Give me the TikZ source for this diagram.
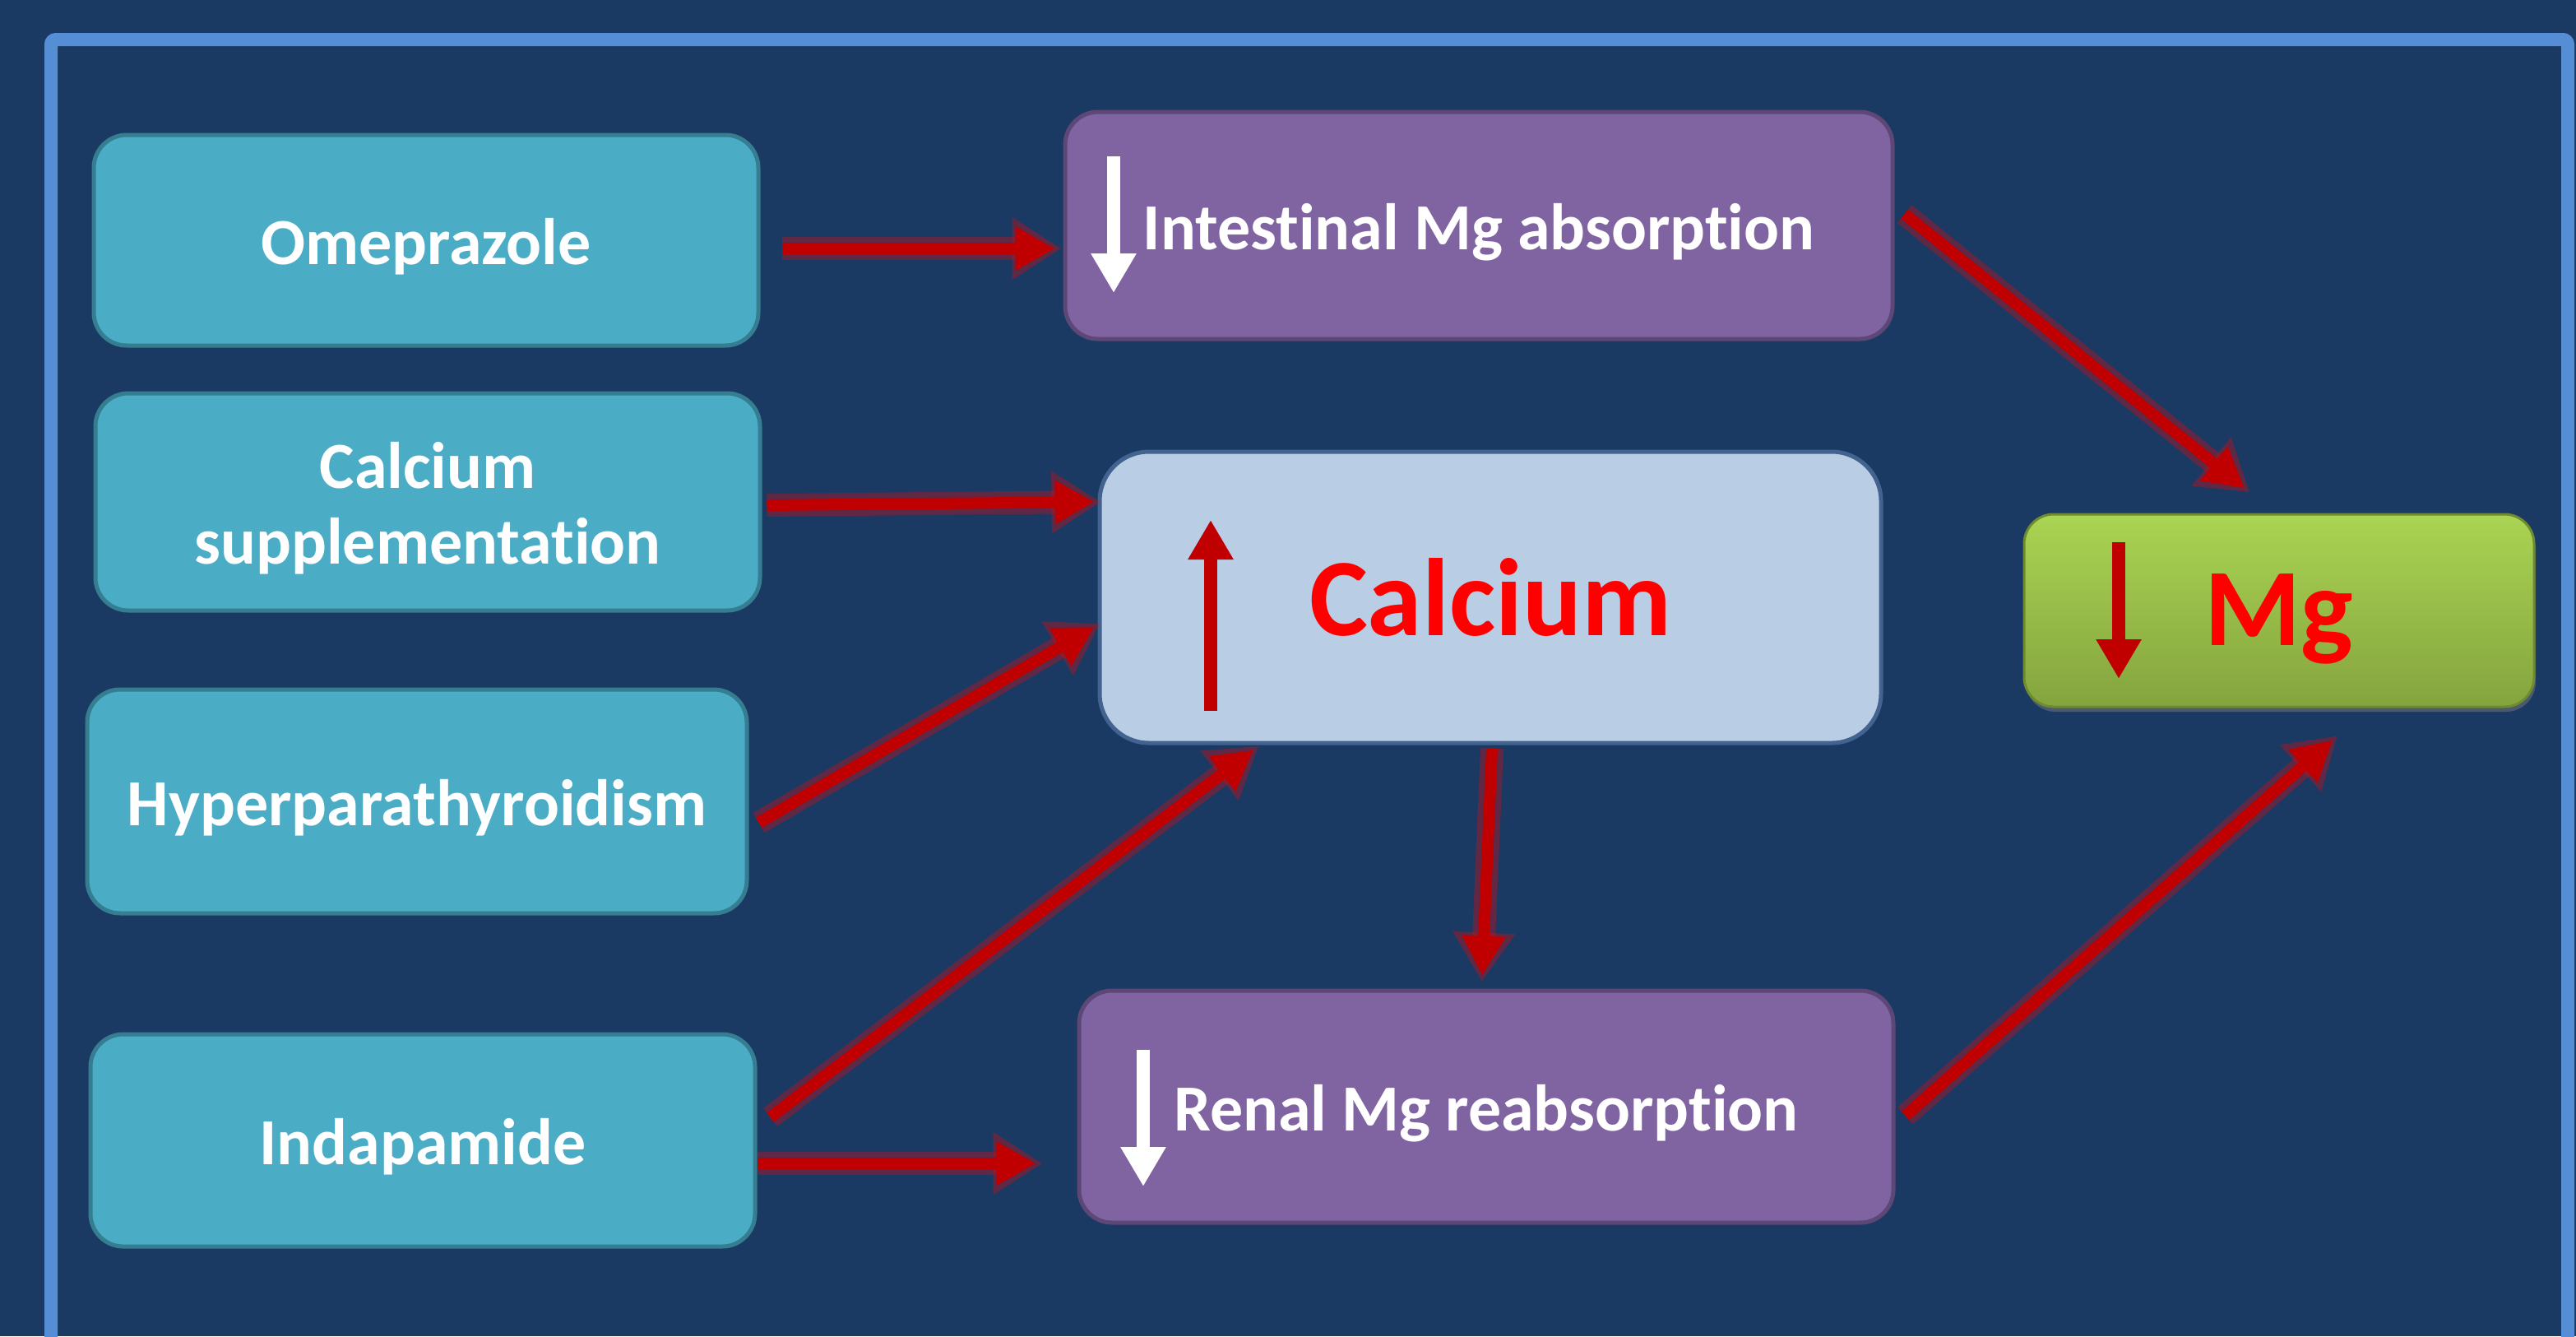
\documentclass[tikz,border=0pt]{standalone}
\usepackage{fontspec}
\setmainfont{Carlito}[Ligatures=NoCommon]
\usetikzlibrary{arrows.meta,shadows}
\definecolor{bgc}{HTML}{1B3A63}
\definecolor{framec}{HTML}{558ED5}
\definecolor{tealf}{HTML}{4BACC6}
\definecolor{tealb}{HTML}{357D91}
\definecolor{purpf}{HTML}{8064A2}
\definecolor{purpb}{HTML}{5C4776}
\definecolor{calcf}{HTML}{B9CDE5}
\definecolor{calcb}{HTML}{42638F}
\definecolor{greent}{HTML}{AAD453}
\definecolor{greenb}{HTML}{84A43E}
\definecolor{greend}{HTML}{6E8B30}
\definecolor{arrred}{HTML}{C00000}
\definecolor{txtred}{HTML}{FF0000}
\newcommand\tup{\rule{0pt}{36pt}}
\begin{document}
\begin{tikzpicture}[x=1pt,y=-1pt,
  box/.style={draw, line width=2.5pt, rounded corners=20pt, align=center, text=white,
    font=\fontsize{40}{46}\selectfont\bfseries, inner sep=0pt},
  cause/.style={box, fill=tealf, draw=tealb},
  mech/.style={box, fill=purpf, draw=purpb},
  conn/.style={draw=arrred, line width=7pt, -{Triangle[length=24pt,width=25pt]},
    preaction={draw=red, draw opacity=.3, line width=14pt,
      -{Triangle[length=30pt,width=36pt]}, shorten >=-4pt}},
  inarr/.style={line width=8pt, -{Triangle[length=24pt,width=26pt]}}
]
\useasboundingbox (0,0) rectangle (1566,812);
\fill[bgc] (0,0) rectangle (1566,812);
\begin{scope}
\clip (0,0) rectangle (1566,812);
\draw[framec, line width=8pt, rounded corners=3pt] (31,840) -- (31,24) -- (1561,24) -- (1561,840);
\end{scope}

% cause boxes
\node[cause, minimum width=404pt, minimum height=128pt] (omep) at (259,146) {\tup Omeprazole};
\node[cause, minimum width=404pt, minimum height=132pt] (calsup) at (260,305) {\tup Calcium\\supplementation};
\node[cause, minimum width=401pt, minimum height=136pt] (hyper) at (253.5,487) {\tup Hyperparathyroidism};
\node[cause, minimum width=404pt, minimum height=129pt] (indap) at (257,693) {\tup Indapamide};

% mechanism boxes
\node[mech, minimum width=503pt, minimum height=138pt] (intest) at (899,137) {\tup Intestinal Mg absorption};
\node[mech, minimum width=495pt, minimum height=141pt] (renal) at (903.5,672.5) {\tup Renal Mg reabsorption};

% calcium box
\node[box, fill=calcf, draw=calcb, rounded corners=30pt, minimum width=475pt, minimum height=177pt,
  text=txtred, font=\fontsize{67}{72}\selectfont\bfseries] (calcium) at (906,363) {Calcium};

% Mg box
\node[box, top color=greent, bottom color=greenb, draw=greend, line width=1.5pt, rounded corners=18pt,
  minimum width=310pt, minimum height=117pt, text=txtred, font=\fontsize{67}{72}\selectfont\bfseries,
  drop shadow={shadow xshift=1pt, shadow yshift=-3pt, opacity=.45}] (mg) at (1385.5,371) {\rule{0pt}{54pt}Mg};

% inner direction arrows
\draw[inarr, white] (677,95) -- (677,178);
\draw[inarr, white] (695,638) -- (695,721);
\draw[inarr, arrred] (736,432) -- (736,316);
\draw[inarr, arrred] (1288,329.5) -- (1288,412.5);

% connectors
\draw[conn] ([shift={(13,5)}]omep.east) -- ([shift={(-5,14)}]intest.west);
\draw[conn] ([shift={(3,2)}]calsup.east) -- ([shift={(-2,-58)}]calcium.west);
\draw[conn] ([shift={(6,13)}]hyper.east) -- ([shift={(-2,18)}]calcium.west);
\draw[conn] ([shift={(8,-14)}]indap.east) -- ([shift={(-144,3)}]calcium.south);
\draw[conn] ([shift={(0,14)}]indap.east) -- ([shift={(-25,34.5)}]renal.west);
\draw[conn] ([shift={(1,2)}]calcium.south) -- ([shift={(-2.5,-8)}]renal.north);
\draw[conn] ([shift={(6,-7)}]intest.east) -- ([shift={(-21,-15)}]mg.north);
\draw[conn] ([shift={(6,5.5)}]renal.east) -- ([shift={(32.5,19.5)}]mg.south);
\end{tikzpicture}
\end{document}
